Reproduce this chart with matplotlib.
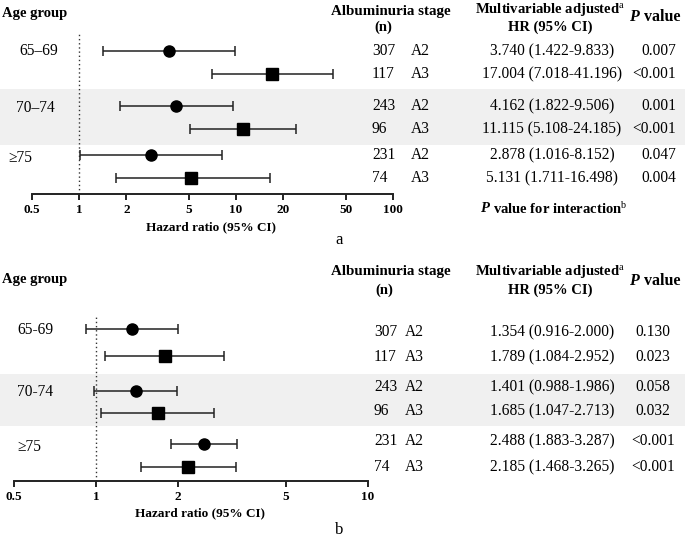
import matplotlib
matplotlib.use('Agg')
import matplotlib.pyplot as plt
from matplotlib.patches import Rectangle

plt.rcParams['font.family'] = ['Liberation Serif', 'DejaVu Serif']
plt.rcParams['mathtext.fontset'] = 'custom'
plt.rcParams['mathtext.rm'] = 'Liberation Serif'
plt.rcParams['mathtext.it'] = 'Liberation Serif:italic'
plt.rcParams['mathtext.bf'] = 'Liberation Serif:bold'

# ---- data ----
age_a = ['65\u201369', '70\u201374', '\u226575']
age_b = ['65-69', '70-74', '\u226575']
n_vals = [307, 117, 243, 96, 231, 74]
stages = ['A2', 'A3', 'A2', 'A3', 'A2', 'A3']

hr_a = [3.740, 17.004, 4.162, 11.115, 2.878, 5.131]
lo_a = [1.422, 7.018, 1.822, 5.108, 1.016, 1.711]
hi_a = [9.833, 41.196, 9.506, 24.185, 8.152, 16.498]
p_a = ['0.007', '<0.001', '0.001', '<0.001', '0.047', '0.004']

hr_b = [1.354, 1.789, 1.401, 1.685, 2.488, 2.185]
lo_b = [0.916, 1.084, 0.988, 1.047, 1.883, 1.468]
hi_b = [2.000, 2.952, 1.986, 2.713, 3.287, 3.265]
p_b = ['0.130', '0.023', '0.058', '0.032', '<0.001', '<0.001']

ticks_a = [0.5, 1, 2, 5, 10, 20, 50, 100]
ticks_b = [0.5, 1, 2, 5, 10]

# ---- layout (pixel coords, y down) ----
W, H = 685, 544
rows_a = [51, 74, 106, 129, 155, 178]
rows_b = [329, 356, 391, 413, 444, 467]
text_rows_b = [332, 357, 387, 411, 441, 467]

fig = plt.figure(figsize=(W / 100, H / 100), dpi=100)
bg = fig.add_axes([0, 0, 1, 1], zorder=0)
bg.set_xlim(0, W)
bg.set_ylim(H, 0)
bg.axis('off')

# shaded bands
bg.add_patch(Rectangle((0, 89), W, 56, color='#f0f0f0', lw=0))
bg.add_patch(Rectangle((0, 374), W, 52, color='#f0f0f0', lw=0))

fs = 11.2
hfs = 10.5


def forest(px_left, px_right, px_top, px_bottom, hr, lo, hi, rows, ticks, xmin, xmax):
    ax = fig.add_axes([px_left / W, 1 - px_bottom / H,
                       (px_right - px_left) / W, (px_bottom - px_top) / H], zorder=1)
    ax.patch.set_visible(False)
    ax.set_xscale('log')
    ax.set_xlim(xmin, xmax)
    ax.set_ylim(px_bottom, px_top)
    for s in ['top', 'right', 'left']:
        ax.spines[s].set_visible(False)
    ax.spines['bottom'].set_linewidth(1.4)
    ax.spines['bottom'].set_color('#222222')
    ax.set_yticks([])
    ax.set_xticks(ticks)
    ax.set_xticklabels([('%g' % t) for t in ticks], fontweight='bold', fontsize=9.5)
    ax.minorticks_off()
    ax.tick_params(axis='x', direction='out', length=4, width=1.4, pad=3, color='#222222')
    ax.axvline(1, color='#333333', ls=(0, (1, 2)), lw=1.0)
    for i in range(len(hr)):
        ax.errorbar(hr[i], rows[i], xerr=[[hr[i] - lo[i]], [hi[i] - hr[i]]],
                    fmt='o' if i % 2 == 0 else 's', color='black', ecolor='#222222',
                    elinewidth=1.1, capsize=3.6, capthick=1.1,
                    markersize=8 if i % 2 == 0 else 8.5, zorder=3)
    return ax


forest(32, 393, 33, 194, hr_a, lo_a, hi_a, rows_a, ticks_a, 0.5, 100)
forest(14, 368, 315, 481, hr_b, lo_b, hi_b, rows_b, ticks_b, 0.5, 10)


def p_header(x, y, tail, size=hfs, gap=13):
    bg.text(x, y, 'P', fontweight='bold', fontstyle='italic', fontsize=size, va='center')
    bg.text(x + gap, y, tail, fontweight='bold', fontsize=size, va='center')


# ---- panel a text ----
bg.text(2, 13, 'Age group', fontweight='bold', fontsize=hfs, va='center')
for lab, y, x in zip(age_a, [51, 108, 158], [19, 16, 8]):
    bg.text(x, y, lab, fontsize=fs, va='center')
bg.text(391, 12, 'Albuminuria stage', fontweight='bold', fontsize=10.8, ha='center', va='center')
bg.text(383, 27, '(n)', fontweight='bold', fontsize=hfs, ha='center', va='center')
bg.text(550, 9, r'Multivariable adjusted$^{\rm a}$', fontweight='bold', fontsize=hfs,
        ha='center', va='center')
bg.text(550, 27, 'HR (95% CI)', fontweight='bold', fontsize=hfs, ha='center', va='center')
p_header(629, 17, 'value', 11.5, 15)
for i, y in enumerate(rows_a):
    bg.text(372, y, str(n_vals[i]), fontsize=fs, va='center')
    bg.text(411, y, stages[i], fontsize=fs, va='center')
    bg.text(552, y, '%.3f (%.3f-%.3f)' % (hr_a[i], lo_a[i], hi_a[i]), fontsize=fs,
            ha='center', va='center')
    bg.text(676, y, p_a[i], fontsize=fs, ha='right', va='center')
p_header(480, 209, r'value for interaction$^{\rm b}$', hfs, 13)
bg.text(211, 227, 'Hazard ratio (95% CI)', fontweight='bold', fontsize=9.5,
        ha='center', va='center')
bg.text(339, 240, 'a', fontsize=12, ha='center', va='center')

# ---- panel b text ----
bg.text(2, 280, 'Age group', fontweight='bold', fontsize=hfs, va='center')
for lab, y in zip(age_b, [330, 392, 447]):
    bg.text(17, y, lab, fontsize=fs, va='center')
bg.text(391, 272, 'Albuminuria stage', fontweight='bold', fontsize=10.8, ha='center', va='center')
bg.text(384, 290, '(n)', fontweight='bold', fontsize=hfs, ha='center', va='center')
bg.text(550, 272, r'Multivariable adjusted$^{\rm a}$', fontweight='bold', fontsize=hfs,
        ha='center', va='center')
bg.text(550, 290, 'HR (95% CI)', fontweight='bold', fontsize=hfs, ha='center', va='center')
p_header(629, 281, 'value', 11.5, 15)
for i, y in enumerate(text_rows_b):
    bg.text(374, y, str(n_vals[i]), fontsize=fs, va='center')
    bg.text(405, y, stages[i], fontsize=fs, va='center')
    bg.text(552, y, '%.3f (%.3f-%.3f)' % (hr_b[i], lo_b[i], hi_b[i]), fontsize=fs,
            ha='center', va='center')
    bg.text(653, y, p_b[i], fontsize=fs, ha='center', va='center')
bg.text(200, 513, 'Hazard ratio (95% CI)', fontweight='bold', fontsize=9.5,
        ha='center', va='center')
bg.text(339, 530, 'b', fontsize=12, ha='center', va='center')

fig.savefig('out.png', dpi=100)
